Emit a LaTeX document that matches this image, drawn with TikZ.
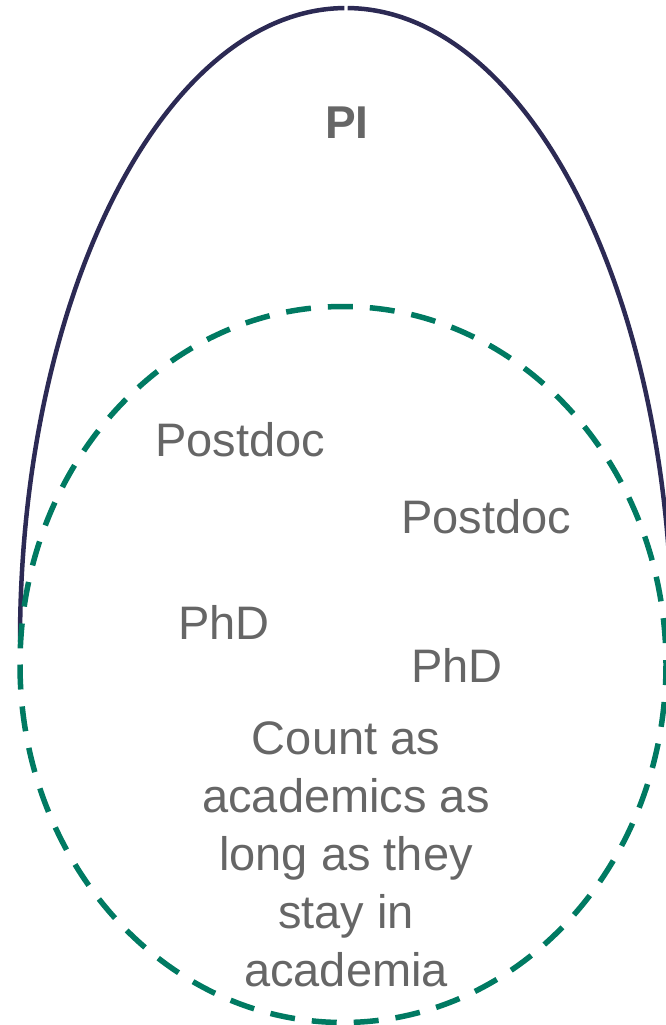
\documentclass[tikz,border=0pt]{standalone}
\usepackage{fontspec}
\setmainfont{Liberation Sans}
\definecolor{navy}{RGB}{44,42,84}
\definecolor{tealc}{RGB}{0,122,98}
\definecolor{txt}{RGB}{102,102,102}
\begin{document}
\begin{tikzpicture}[x=1pt,y=-1pt,
  lbl/.style={text=txt, font=\fontsize{47}{58}\selectfont, inner sep=0pt},
  outer/.style={draw=navy, line width=4.5pt},
  inner/.style={draw=tealc, line width=5.5pt, dash pattern=on 25pt off 17pt}]
\useasboundingbox (0,0) rectangle (666,1025);
\clip (0,0) rectangle (666,1025);
% outer half ellipse (two quarter arcs with a small gap at the top)
\path[outer] (20,642) arc[start angle=180, end angle=269.7, x radius=326, y radius=634];
\path[outer] (672,642) arc[start angle=0, end angle=-89.7, x radius=326, y radius=634];
% inner dashed ellipse
\path[inner] (20,664.5) arc[start angle=180, end angle=-180, x radius=323, y radius=358];
% labels
\node[lbl, font=\fontsize{46}{55}\selectfont\bfseries] (pi) at (347,123) {PI};
\node[lbl] (pd1) at (240,440) {Postdoc};
\node[lbl] (pd2) at (486,517) {Postdoc};
\node[lbl] (phd1) at (224,622) {PhD};
\node[lbl] (phd2) at (457,665) {PhD};
\node[lbl, align=center] (cnt) at (346,854) {Count as\\academics as\\long as they\\stay in\\academia};
\end{tikzpicture}
\end{document}
